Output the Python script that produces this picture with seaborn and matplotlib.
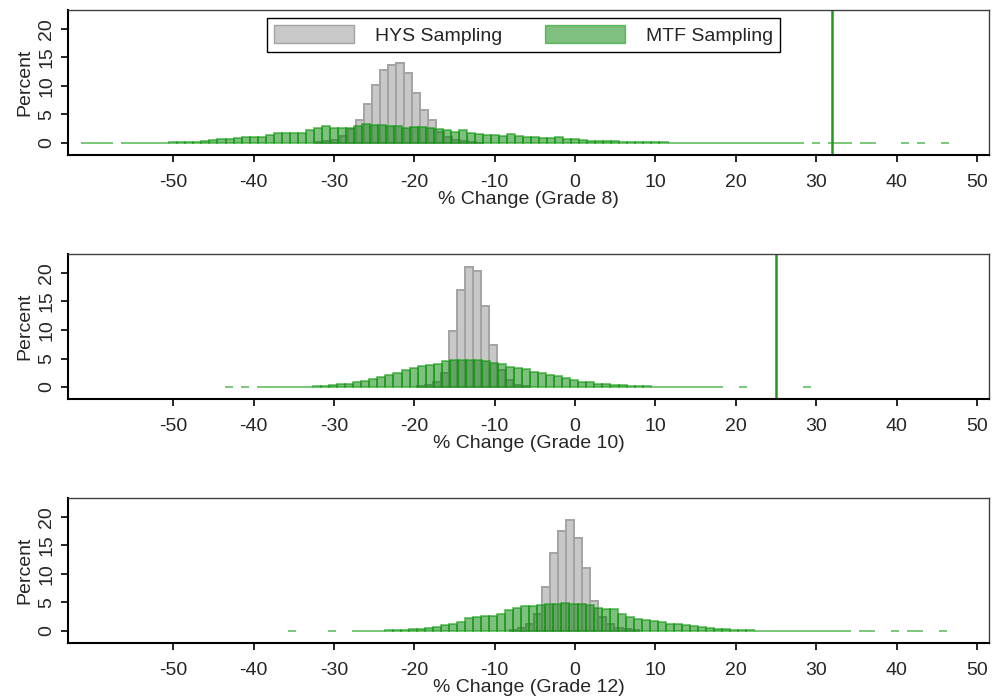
import matplotlib
matplotlib.use("Agg")
import matplotlib.pyplot as plt
from matplotlib.patches import Patch
import pandas as pd
import seaborn as sns

# panels
grades = ["Grade 8", "Grade 10", "Grade 12"]
ref_lines = [32, 25, None]

# HYS sampling: left edge of first 1-point bin, then percent per bin
hys_start = [-32.3, -19.7, -8.1]
hys_pct = [
    [0.1, 0.3, 0.6, 1.2, 2.5, 4.0, 6.9, 10.1, 12.8, 13.6, 14.0, 12.3, 8.7, 5.8,
     4.0, 2.0, 1.0, 0.6, 0.3, 0.1, 0.05],
    [0.1, 0.3, 0.9, 2.5, 9.8, 17.0, 21.0, 20.3, 14.2, 7.4, 3.0, 1.2, 0.4, 0.1],
    [0.2, 0.5, 1.2, 3.0, 7.7, 13.7, 17.5, 19.4, 16.3, 11.1, 5.3, 2.5, 1.2, 0.5,
     0.3, 0.1],
]

# MTF sampling
mtf_start = [-61.5, -43.6, -35.7]
mtf_pct = [
    [0.02, 0.02, 0.02, 0.02, 0,
     0.03, 0.03, 0.04, 0.05, 0.06, 0.08,
     0.1, 0.12, 0.15, 0.25, 0.35, 0.5, 0.65, 0.75, 0.8, 1.0,
     1.1, 1.1, 1.35, 1.7, 1.7, 1.8, 1.8, 2.2, 2.6, 2.9,
     2.7, 2.6, 2.6, 2.9, 3.4, 3.2, 3.1, 3.0, 2.9, 2.6,
     2.8, 2.8, 2.6, 2.4, 2.2, 2.0, 2.2, 1.8, 1.6, 1.4,
     1.4, 1.2, 1.5, 1.2, 1.1, 1.1, 0.8, 0.8, 1.0, 0.65,
     0.65, 0.5, 0.4, 0.3, 0.3, 0.4, 0.25, 0.25, 0.2, 0.15,
     0.1, 0.1, 0.08, 0.08, 0.05, 0.05, 0.05, 0.05, 0.05, 0.05,
     0.05, 0.03, 0.03, 0.03, 0.03, 0.03, 0.03, 0.03, 0.03,
     0, 0.02, 0, 0.02, 0.02, 0.02, 0, 0.02, 0.02, 0, 0, 0, 0.02, 0, 0.02, 0, 0, 0.02],
    [0.02, 0, 0.02, 0,
     0.02, 0.02, 0.03, 0.03, 0.04, 0.05, 0.08, 0.1, 0.2, 0.3,
     0.45, 0.6, 0.8, 1.1, 1.4, 1.7, 2.1, 2.5, 2.9, 3.3,
     3.6, 3.8, 4.1, 4.5, 4.7, 4.8, 4.8, 4.7, 4.6, 4.3,
     4.1, 3.5, 3.4, 3.2, 2.7, 2.4, 2.1, 1.9, 1.6, 1.3,
     0.9, 0.8, 0.6, 0.6, 0.4, 0.3, 0.2, 0.12, 0.1, 0.08,
     0.06, 0.05, 0.05, 0.04, 0.04, 0.03, 0.03, 0.03,
     0, 0, 0.02, 0, 0, 0, 0, 0, 0, 0, 0.02],
    [0.02, 0, 0, 0, 0, 0.02, 0, 0,
     0.03, 0.04, 0.05, 0.08, 0.1, 0.15, 0.2, 0.3, 0.35, 0.5,
     0.7, 1.0, 1.3, 1.6, 2.2, 2.5, 2.7, 2.7, 3.0, 3.6,
     4.1, 4.3, 4.4, 4.6, 4.7, 4.8, 4.85, 4.8, 4.7, 4.5,
     4.1, 3.9, 3.9, 2.9, 2.5, 2.1, 1.9, 1.75, 1.5, 1.3,
     1.2, 1.0, 0.8, 0.7, 0.5, 0.4, 0.3, 0.2, 0.12, 0.1,
     0.08, 0.07, 0.06, 0.04, 0.04, 0.04, 0.04, 0.04, 0.04, 0.04, 0.04, 0.04,
     0, 0.02, 0.02, 0, 0, 0.02, 0, 0.02, 0.02, 0, 0, 0.02],
]

xticks = [-50, -40, -30, -20, -10, 0, 10, 20, 30, 40, 50]
yticks = [0, 5, 10, 15, 20]

sns.set_style("white")
plt.rcParams["font.family"] = ["Liberation Sans", "DejaVu Sans"]
plt.rcParams["font.size"] = 14
plt.rcParams["axes.unicode_minus"] = False

gray_face = "#c8c8c8"
gray_edge = "#a3a3a3"
green_face = (0.0, 0.5, 0.0, 0.5)
green_edge = (0.05, 0.6, 0.05, 0.55)

fig = plt.figure(figsize=(10, 6.97), dpi=100)
bottoms = [0.7776, 0.4275, 0.0775]


def draw_hist(ax, start, pct, face, edge):
    edges = [start + k for k in range(len(pct) + 1)]
    df = pd.DataFrame({"change": [e + 0.5 for e in edges[:-1]],
                       "pct": [float(v) for v in pct]})
    sns.histplot(data=df, x="change", weights="pct", bins=edges,
                 stat="count", ax=ax, facecolor=face, edgecolor=edge,
                 linewidth=1.4)


for i, grade in enumerate(grades):
    ax = fig.add_axes([0.068, bottoms[i], 0.921, 0.208])
    draw_hist(ax, hys_start[i], hys_pct[i], gray_face, gray_edge)
    draw_hist(ax, mtf_start[i], mtf_pct[i], green_face, green_edge)
    # empty bins are not drawn
    for p in ax.patches:
        if p.get_height() == 0:
            p.set_visible(False)
    if ref_lines[i] is not None:
        ax.axvline(ref_lines[i], color="#1f9a1f", lw=1.8)

    ax.set_xlim(-63.1, 51.5)
    ax.set_ylim(-2.1, 23.3)
    ax.set_xticks(xticks)
    ax.set_yticks(yticks)
    ax.set_yticklabels([str(t) for t in yticks], rotation=90, va="center")
    ax.tick_params(axis="both", direction="out", length=5, width=1.2,
                   color="black", labelsize=14, bottom=True, left=True)
    ax.tick_params(axis="x", pad=9)
    ax.tick_params(axis="y", pad=4)
    ax.set_xlabel(f"% Change ({grade})", fontsize=14, labelpad=0)
    ax.set_ylabel("Percent", fontsize=14, labelpad=4)
    for side in ["top", "right"]:
        ax.spines[side].set_color("#404040")
        ax.spines[side].set_linewidth(1.0)
    for side in ["left", "bottom"]:
        ax.spines[side].set_color("black")
        ax.spines[side].set_linewidth(1.5)

    if i == 0:
        handles = [
            Patch(facecolor=gray_face, edgecolor=gray_edge, label="HYS Sampling"),
            Patch(facecolor=green_face, edgecolor=green_edge, label="MTF Sampling"),
        ]
        leg = ax.legend(handles=handles, loc="upper center",
                        bbox_to_anchor=(0.495, 0.945), ncol=2, frameon=True,
                        fancybox=False, framealpha=1, edgecolor="black",
                        handlelength=4.1, handleheight=1.1, handletextpad=1.1,
                        columnspacing=2.2, borderpad=0.35, fontsize=14,
                        borderaxespad=0)
        leg.get_frame().set_linewidth(1.0)

fig.savefig("out.png", dpi=100)
